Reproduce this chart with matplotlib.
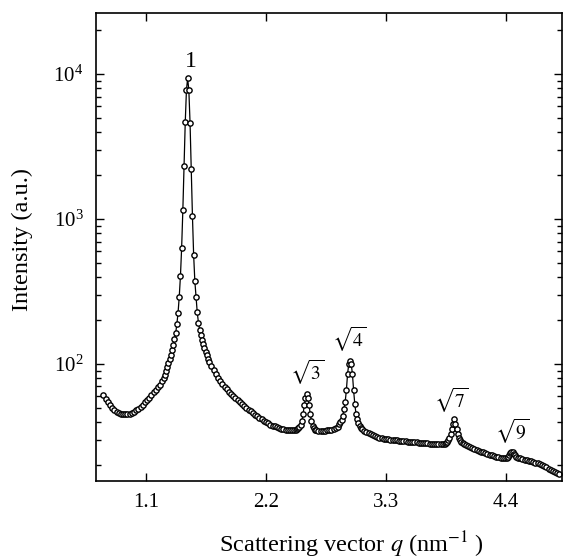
import matplotlib
matplotlib.use('Agg')
import matplotlib.pyplot as plt
from matplotlib.ticker import LogLocator, FixedLocator, NullLocator

plt.rcParams['font.family'] = 'serif'
plt.rcParams['font.serif'] = ['Liberation Serif', 'DejaVu Serif']
plt.rcParams['mathtext.fontset'] = 'stix'

# scattering vector q (nm^-1)
q = [0.71, 0.73, 0.75, 0.77, 0.79, 0.81, 0.83, 0.85, 0.87, 0.89,
     0.91, 0.93, 0.95, 0.97, 0.99, 1.01, 1.03, 1.05, 1.07, 1.09,
     1.11, 1.13, 1.15, 1.17, 1.19, 1.21, 1.23, 1.25,
     1.262, 1.273, 1.284, 1.295, 1.306, 1.317, 1.328, 1.339, 1.350, 1.361,
     1.372, 1.383, 1.394, 1.405, 1.416, 1.427, 1.438, 1.449, 1.460, 1.471,
     1.482, 1.493, 1.504, 1.515, 1.526, 1.537, 1.548, 1.559, 1.570, 1.581,
     1.592, 1.603, 1.614, 1.625, 1.636, 1.647, 1.658, 1.669, 1.680,
     1.70, 1.72, 1.74, 1.76, 1.78, 1.80, 1.82, 1.84, 1.86, 1.88,
     1.90, 1.92, 1.94, 1.96, 1.98, 2.00, 2.02, 2.04, 2.06, 2.08,
     2.10, 2.12, 2.14, 2.16, 2.18, 2.20, 2.22, 2.24, 2.26, 2.28,
     2.30, 2.32, 2.34, 2.36, 2.38, 2.40, 2.42, 2.44, 2.46,
     2.474, 2.485, 2.496, 2.507, 2.518, 2.529, 2.540, 2.551, 2.562, 2.573,
     2.584, 2.595, 2.606, 2.617, 2.628, 2.639, 2.650, 2.661,
     2.68, 2.70, 2.72, 2.74, 2.76, 2.78, 2.80, 2.82, 2.84, 2.86,
     2.871, 2.882, 2.893, 2.904, 2.915, 2.926, 2.937, 2.948, 2.959, 2.970,
     2.981, 2.992, 3.003, 3.014, 3.025, 3.036, 3.047, 3.058, 3.069, 3.080,
     3.10, 3.12, 3.14, 3.16, 3.18, 3.20, 3.22, 3.24, 3.26, 3.28,
     3.30, 3.32, 3.34, 3.36, 3.38, 3.40, 3.42, 3.44, 3.46, 3.48,
     3.50, 3.52, 3.54, 3.56, 3.58, 3.60, 3.62, 3.64, 3.66, 3.68,
     3.70, 3.72, 3.74, 3.76, 3.78, 3.80, 3.82,
     3.838, 3.849, 3.860, 3.871, 3.882, 3.893, 3.904, 3.915, 3.926, 3.937,
     3.948, 3.959, 3.970, 3.981, 3.992, 4.003, 4.014,
     4.03, 4.05, 4.07, 4.09, 4.11, 4.13, 4.15, 4.17, 4.19, 4.21,
     4.23, 4.25, 4.27, 4.29, 4.31, 4.33, 4.35, 4.37, 4.39, 4.41,
     4.42, 4.43, 4.44, 4.45, 4.46, 4.47, 4.48, 4.49,
     4.51, 4.53, 4.55, 4.57, 4.59, 4.61, 4.63, 4.65, 4.67, 4.69,
     4.71, 4.73, 4.75, 4.77, 4.79, 4.81, 4.83, 4.85, 4.87, 4.885]

intensity = [61, 57.5, 54.5, 52, 49.8, 48, 46.8, 45.9, 45.3, 45.0,
             44.9, 45.0, 45.3, 45.9, 46.8, 47.9, 49.2, 50.7, 52.4, 54.3,
             56.4, 58.7, 61.2, 63.8, 66.2, 69, 72, 76,
             80, 84, 89, 95, 102, 108, 115, 124, 135, 148,
             163, 188, 225, 291, 403, 634, 1150, 2330, 4640, 7760,
             9340, 7760, 4620, 2200, 1050, 565, 373, 290, 227, 193,
             172, 158, 147, 138, 130, 122, 115, 109, 104,
             97, 90.5, 85, 80, 76, 72.5, 69.5, 66.8, 64.3, 62,
             60, 58, 56.2, 54.5, 52.9, 51.4, 49.9, 48.5, 47.2, 46,
             44.8, 43.7, 42.6, 41.6, 40.6, 39.7, 38.9, 38.2, 37.6, 37.1,
             36.6, 36.2, 35.9, 35.6, 35.3, 35.1, 34.9, 34.8, 35.0,
             35.2, 35.5, 36.0, 36.8, 38.2, 40.3, 45, 52, 58, 61.8,
             58, 52, 45, 40.3, 37.5, 36, 35.2, 34.8,
             34.6, 34.5, 34.5, 34.6, 34.8, 35.0, 35.3, 35.6, 36.0, 37.0,
             38.5, 39.5, 41, 44, 49, 55, 66, 86, 100, 105,
             100, 86, 66, 53, 45.5, 41.5, 39, 37.5, 36.4, 35.5,
             34.5, 33.9, 33.4, 33.0, 32.6, 31.9, 31.5, 31.1, 30.8, 30.6,
             30.4, 30.2, 30.0, 29.9, 29.8, 29.7, 29.6, 29.5, 29.4, 29.3,
             29.2, 29.1, 29.0, 28.9, 28.8, 28.7, 28.6, 28.5, 28.4, 28.3,
             28.2, 28.1, 28.0, 28.0, 27.9, 27.9, 28.0,
             28.2, 28.5, 29, 29.8, 31, 33, 35.5, 38.5, 41.5, 38.5,
             35.5, 33, 31, 29.8, 29, 28.4, 27.9,
             27.5, 27.1, 26.7, 26.4, 26.0, 25.6, 25.2, 24.9, 24.6, 24.3,
             24.0, 23.7, 23.4, 23.2, 23.0, 22.8, 22.6, 22.4, 22.4, 22.6,
             23.0, 23.6, 24.3, 24.8, 24.6, 24.0, 23.4, 22.9,
             22.6, 22.4, 22.1, 21.9, 21.7, 21.5, 21.3, 21.1, 20.8, 20.6,
             20.3, 20.0, 19.7, 19.4, 19.0, 18.7, 18.4, 18.0, 17.7, 17.5]

# peak labels: text, q, intensity
peak_labels = ['1', r'$\sqrt{3}$', r'$\sqrt{4}$', r'$\sqrt{7}$', r'$\sqrt{9}$']
label_q = [1.512, 2.575, 2.96, 3.90, 4.46]
label_i = [11200, 77, 131, 49.4, 30.3]

xticks = [1.1, 2.2, 3.3, 4.4]

fig = plt.figure(figsize=(5.63, 5.60), dpi=100)
ax = fig.add_axes([0.1705, 0.1411, 0.8277, 0.8357])

ax.plot(q, intensity, '-', color='black', lw=0.9,
        marker='o', ms=3.8, mfc='white', mec='black', mew=1.0)

ax.set_yscale('log')
ax.set_xlim(0.642, 4.913)
ax.set_ylim(15.6, 26400)

ax.xaxis.set_major_locator(FixedLocator(xticks))
ax.xaxis.set_minor_locator(NullLocator())
ax.set_xticklabels([f'{t:.1f}' for t in xticks])
ax.yaxis.set_major_locator(LogLocator(base=10, numticks=10))
ax.yaxis.set_minor_locator(LogLocator(base=10, subs=range(2, 10), numticks=20))

ax.tick_params(which='both', direction='in', top=True, right=True,
               labelsize=15, pad=9, width=1)
ax.tick_params(which='major', length=6)
ax.tick_params(which='minor', length=3.5)
for s in ax.spines.values():
    s.set_linewidth(1.2)

for t, x, y in zip(peak_labels, label_q, label_i):
    ax.text(x, y, t, ha='center', va='baseline',
            fontsize=17 if t == '1' else 14)

ax.set_xlabel(r'Scattering vector $q$ (nm$^{-1}$ )', fontsize=17.5)
ax.set_ylabel('Intensity (a.u.)', fontsize=17.5)
ax.xaxis.set_label_coords(0.549, -0.104)
ax.yaxis.set_label_coords(-0.135, 0.515)

fig.savefig('out.png', dpi=100)
